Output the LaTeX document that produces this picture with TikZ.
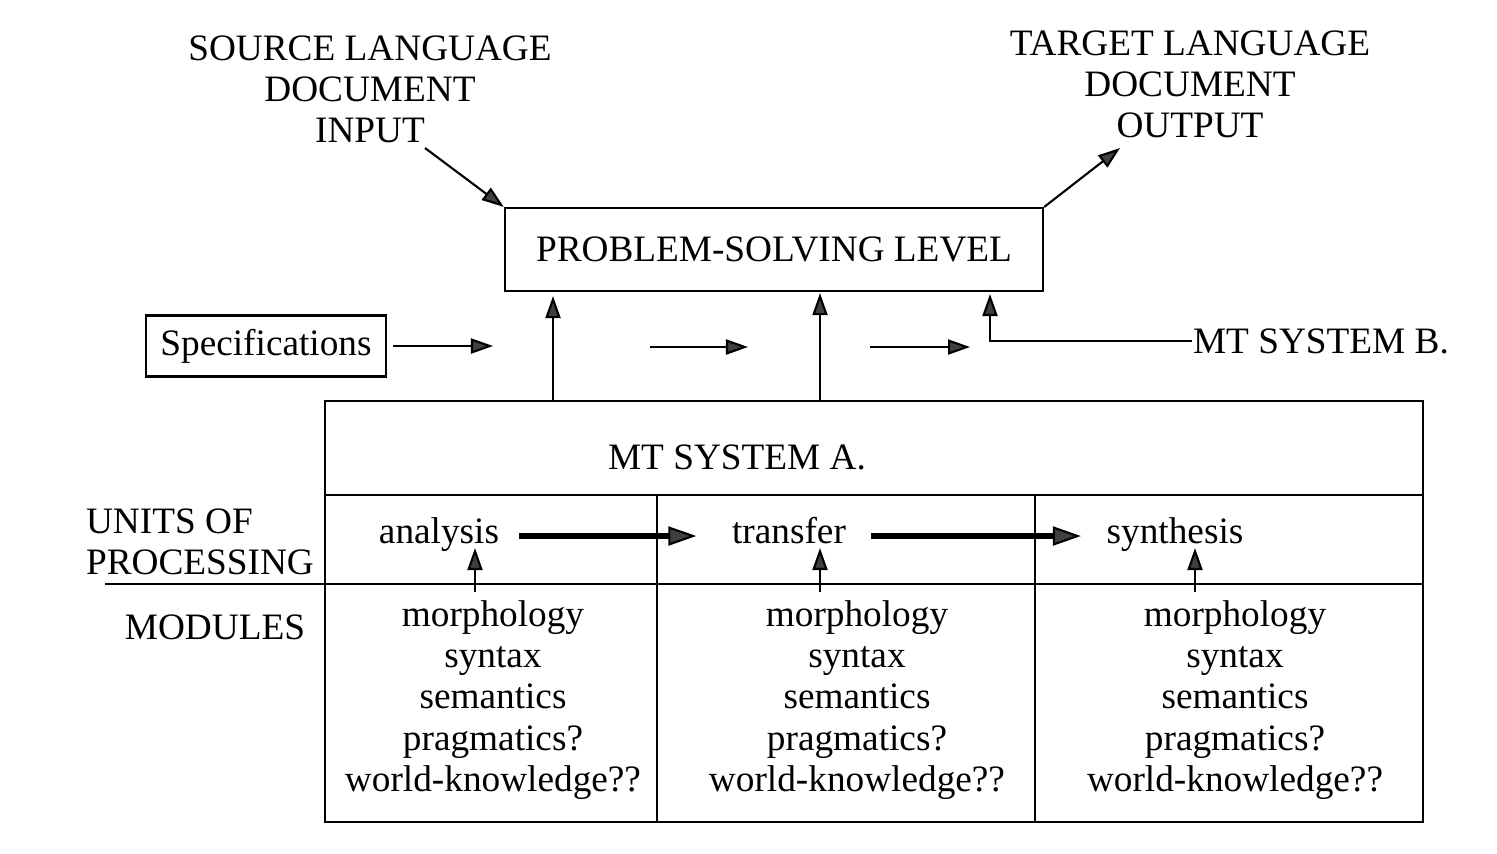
\documentclass[tikz,border=0pt]{standalone}
\usepackage{fontspec}
\setmainfont{Liberation Serif}
\usetikzlibrary{arrows.meta}

\tikzset{
  arr/.style={-{Triangle[length=2.2mm,width=1.5mm,fill=darkgray]}},
  bigarr/.style={-{Triangle[length=2.8mm,width=1.9mm,line width=0.6pt,fill=darkgray]}, line width=1.5pt},
  lbl/.style={align=center, inner sep=0pt},
  boxed/.style={draw, inner sep=0pt},
  unit/.style={text height=7pt, text depth=2.5pt},
}

\begin{document}
\begin{tikzpicture}[x=0.01cm, y=-0.01cm, line width=0.6pt,
    font=\fontsize{10.6}{11.7}\selectfont]
  \useasboundingbox[fill=white] (0,0) rectangle (1497,853);

  % top level
  \node[lbl] (src) at (370,89) {SOURCE LANGUAGE\\DOCUMENT\\INPUT};
  \node[lbl] (tgt) at (1190,84) {TARGET LANGUAGE\\DOCUMENT\\OUTPUT};
  \node[boxed, minimum width=5.38cm, minimum height=0.83cm] (psl) at (774,249.5) {PROBLEM-SOLVING LEVEL};
  \node[boxed, minimum width=2.4cm, minimum height=0.61cm] (spec) at (266,346) {Specifications};
  \node[anchor=west, inner sep=0pt] (sysb) at (1192,341) {MT SYSTEM B.};

  \coordinate (in1) at (425,148);
  \coordinate (out1) at (1120,148);
  \coordinate (h1) at (493,346);
  \coordinate (h2a) at (650,347);
  \coordinate (h2b) at (748,347);
  \coordinate (h3a) at (870,347);
  \coordinate (h3b) at (970,347);
  \coordinate (v1) at (553,401);
  \coordinate (v2) at (820,401);
  \coordinate (vb) at (990,294);

  % MT system A frame
  \draw (325,401) rectangle (1423,822);
  \draw (325,495) -- (1423,495);
  \draw (105,584) -- (1423,584);
  \draw (657,495) -- (657,822);
  \draw (1035,495) -- (1035,822);

  \node (sysa) at (737,457) {MT SYSTEM A.};
  \node[lbl, align=left, anchor=west] (units) at (85,542) {UNITS OF\\PROCESSING};
  \node (modules) at (215,627) {MODULES};
  \node[unit] (ana) at (439,536) {analysis};
  \node[unit] (tra) at (789,536) {transfer};
  \node[unit] (syn) at (1175,536) {synthesis};
  \foreach \x/\n in {493/moda, 857/modt, 1235/mods}
    \node[lbl] (\n) at (\x,700) {morphology\\syntax\\semantics\\pragmatics?\\world-knowledge??};

  \coordinate (ua1) at (475,592);
  \coordinate (ua2) at (475,548);
  \coordinate (ut1) at (820,592);
  \coordinate (ut2) at (820,548);
  \coordinate (us1) at (1195,592);
  \coordinate (us2) at (1195,548);

  \draw[arr] (in1) -- (psl.north west);
  \draw[arr] (psl.north east) -- (out1);
  \draw[arr, shorten <=0.6mm] (spec.east) -- (h1);
  \draw[arr] (h2a) -- (h2b);
  \draw[arr] (h3a) -- (h3b);
  \draw[arr, shorten >=0.4mm] (v1) -- (v1 |- psl.south);
  \draw[arr, shorten >=0.1mm] (v2) -- (v2 |- psl.south);
  \draw[arr] (sysb.west) -| (vb);

  \draw[bigarr, shorten <=0.7mm, shorten >=2.3mm] (ana) -- (tra);
  \draw[bigarr, shorten <=1.2mm, shorten >=1.3mm] (tra) -- (syn);
  \draw[arr] (ua1) -- (ua2);
  \draw[arr] (ut1) -- (ut2);
  \draw[arr] (us1) -- (us2);
\end{tikzpicture}
\end{document}
